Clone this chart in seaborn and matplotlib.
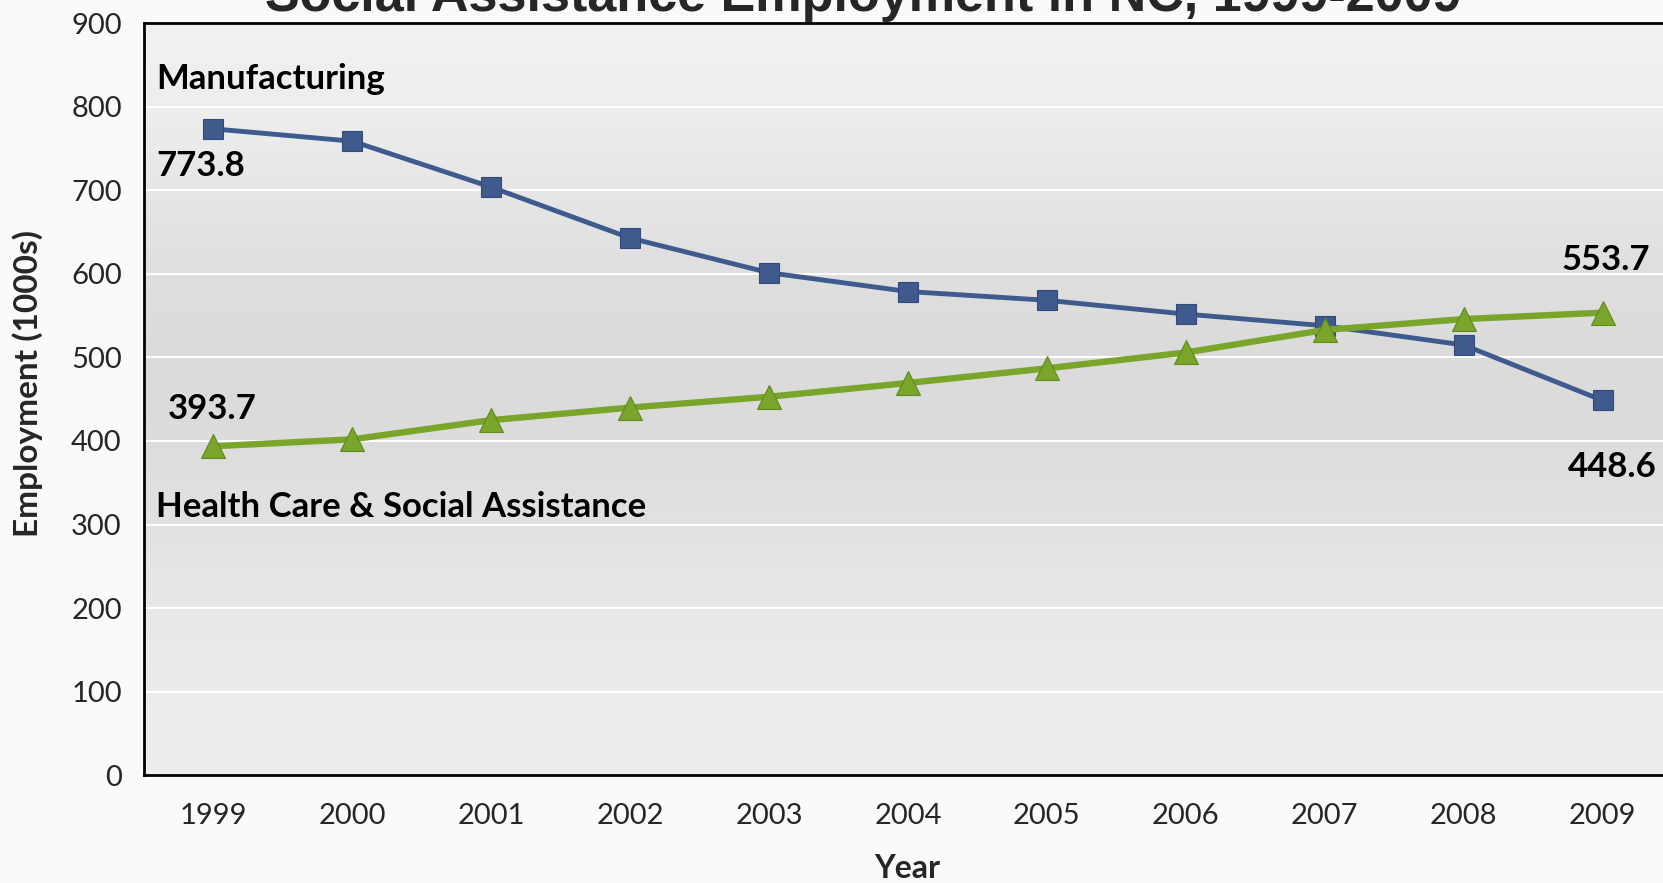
import numpy as np
import pandas as pd
import matplotlib
matplotlib.use("Agg")
import matplotlib.pyplot as plt
import seaborn as sns

years = ["1999", "2000", "2001", "2002", "2003", "2004", "2005", "2006", "2007", "2008", "2009"]
manufacturing = [773.8, 759, 704, 643, 601.5, 579, 568.5, 552, 538, 515, 448.6]
health = [393.7, 402, 425, 440, 453, 469.5, 487, 506, 533, 546, 553.7]
yticks = [0, 100, 200, 300, 400, 500, 600, 700, 800, 900]
title = "Social Assistance Employment in NC, 1999-2009"

sns.set_theme(style="white")
plt.rcParams["font.family"] = ["Lato", "DejaVu Sans"]

df = pd.DataFrame({
    "pos": list(range(len(years))) * 2,
    "value": manufacturing + health,
    "series": ["Manufacturing"] * len(years) + ["Health Care & Social Assistance"] * len(years),
})

fig = plt.figure(figsize=(16.63, 8.83), dpi=100, facecolor="#fafafa")
ax = fig.add_axes([0.0866, 0.1223, 0.9188, 0.8511])

# gradient background
grad = np.array([0.945, 0.925, 0.895, 0.87, 0.858, 0.862, 0.882, 0.905, 0.922, 0.93]).reshape(-1, 1)
ax.imshow(np.dstack([grad, grad, grad]), extent=[0, 1, 0, 1], transform=ax.transAxes,
          aspect="auto", interpolation="bicubic", zorder=0)

blue = "#3f5a8c"
green = "#7aa52b"
sns.lineplot(data=df[df.series == "Manufacturing"], x="pos", y="value", ax=ax, color=blue,
             marker="s", markersize=14, linewidth=3.5, markeredgecolor="#34497a",
             markeredgewidth=0.8, zorder=4)
sns.lineplot(data=df[df.series != "Manufacturing"], x="pos", y="value", ax=ax, color=green,
             marker="^", markersize=17, linewidth=4.6, markeredgecolor="#5f8a1e",
             markeredgewidth=0.8, zorder=5)

ax.set_xlim(-0.5, len(years) - 0.5)
ax.set_ylim(0, 900)
ax.set_yticks(yticks)
ax.set_yticklabels([str(t) for t in yticks], fontsize=21)
ax.set_xticks(range(len(years)))
ax.set_xticklabels(years, fontsize=21)
ax.set_xticks(np.arange(-0.5, len(years) + 0.5, 1), minor=True)
ax.tick_params(axis="x", which="major", length=0, pad=20)
ax.tick_params(axis="x", which="minor", length=10, width=1.5, color="black", direction="out")
ax.tick_params(axis="y", which="major", length=10, width=1.5, color="black", direction="out", pad=6)
ax.grid(axis="y", color="white", linewidth=1.5, zorder=1)
ax.set_axisbelow(True)
for s in ["left", "bottom", "top"]:
    ax.spines[s].set_visible(True)
    ax.spines[s].set_color("black")
    ax.spines[s].set_linewidth(2)
ax.spines["right"].set_visible(False)

ax.set_xlabel("Year", fontsize=23, fontweight="bold", va="center")
ax.xaxis.set_label_coords((907 - 144) / 1528, (775 - 868.6) / 751.5)
ax.set_ylabel("Employment (1000s)", fontsize=24, fontweight="bold", va="center")
ax.yaxis.set_label_coords((27.6 - 144) / 1528, (775 - 384) / 751.5)

tk = dict(fontsize=25, fontweight="bold", color="black", va="center", zorder=6)
ax.text(-0.414, 833, "Manufacturing", ha="left", **tk)
ax.text(-0.414, 729, f"{manufacturing[0]:.1f}", ha="left", **tk)
ax.text(-0.33, 438, f"{health[0]:.1f}", ha="left", **tk)
ax.text(-0.414, 321, "Health Care & Social Assistance", ha="left", **tk)
ax.text(10.34, 617, f"{health[-1]:.1f}", ha="right", **tk)
ax.text(10.39, 369, f"{manufacturing[-1]:.1f}", ha="right", **tk)

fig.text(863 / 1663, 1 - 10.6 / 883, title, ha="center", va="baseline",
         fontsize=37.5, fontweight="bold", family=["Liberation Sans", "DejaVu Sans"])

fig.savefig("out.png", dpi=100, facecolor=fig.get_facecolor())
